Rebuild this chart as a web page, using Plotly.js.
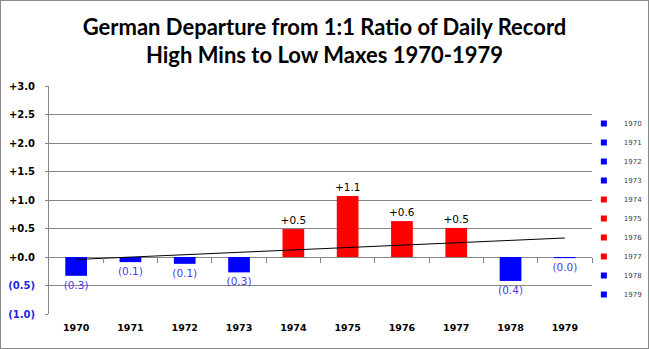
<!DOCTYPE html>
<html>
<head>
<meta charset="utf-8">
<script src="https://cdn.plot.ly/plotly-3.0.1.min.js"></script>
<style>
html,body{margin:0;padding:0;background:#fff;}
#chart{width:647px;height:347px;border:1px solid #8a8a8a;}
</style>
</head>
<body>
<div id="chart"></div>
<script>
// Data
const years = ['1970','1971','1972','1973','1974','1975','1976','1977','1978','1979'];
const departure = [-0.33, -0.09, -0.12, -0.27, 0.49, 1.07, 0.63, 0.51, -0.42, -0.02];
const yTickVals = [-1.0, -0.5, 0.0, 0.5, 1.0, 1.5, 2.0, 2.5, 3.0];

const BLUE = '#0000ff', RED = '#ff0000';
const LABEL_NEG = '#4a3cf0';
const AXIS_NEG = '#1f1fe8';

function fmt(v){ return v >= 0 ? '+' + v.toFixed(1) : '(' + Math.abs(v).toFixed(1) + ')'; }
const barColors = departure.map(v => v >= 0 ? RED : BLUE);
const barText = departure.map(fmt);
const barTextColors = departure.map(v => v >= 0 ? '#000000' : LABEL_NEG);
const yTickText = yTickVals.map(v => v < 0
  ? '<span style="color:' + AXIS_NEG + '">' + fmt(v) + '</span>'
  : fmt(v));

// Linear trend (least squares) computed from the data
const n = departure.length;
const idx = departure.map((_, i) => i);
const mx = idx.reduce((a, b) => a + b, 0) / n;
const my = departure.reduce((a, b) => a + b, 0) / n;
let sxy = 0, sxx = 0;
idx.forEach((x, i) => { sxy += (x - mx) * (departure[i] - my); sxx += (x - mx) * (x - mx); });
const slope = sxy / sxx, icpt = my - slope * mx;
const trendX = [0, n - 1];
const trendY = trendX.map(x => icpt + slope * x);

const traces = [{
  type: 'bar', x: years, y: departure, width: 0.4,
  marker: {color: barColors},
  text: barText, textposition: 'outside', cliponaxis: false, constraintext: 'none',
  textfont: {family: 'DejaVu Sans', size: 10.5, color: barTextColors},
  showlegend: false, hoverinfo: 'x+y'
}, {
  type: 'scatter', mode: 'lines', xaxis: 'x2', x: trendX, y: trendY,
  line: {color: '#000000', width: 1}, showlegend: false, hoverinfo: 'skip'
}];
years.forEach((yr, i) => {
  traces.push({
    type: 'scatter', mode: 'markers', x: [null], y: [null], name: yr,
    marker: {symbol: 'square', size: 6, color: barColors[i]}, showlegend: true
  });
});

const layout = {
  width: 647, height: 347,
  margin: {l: 47.5, r: 56, t: 84.5, b: 33.5, autoexpand: false},
  paper_bgcolor: '#ffffff', plot_bgcolor: '#ffffff',
  title: {
    text: 'German Departure from 1:1 Ratio of Daily Record<br>High Mins to Low Maxes 1970-1979',
    font: {family: 'Lato', size: 22, color: '#000000', weight: 'bold'},
    x: 0.5, xanchor: 'center', y: 0.903, yanchor: 'middle'
  },
  barmode: 'relative',
  xaxis: {
    type: 'category', range: [-0.5, 9.5],
    showgrid: false, zeroline: false, showline: false, ticks: '',
    ticklabelstandoff: 6,
    tickfont: {family: 'DejaVu Sans', size: 9.5, color: '#000000', weight: 'bold'},
    fixedrange: true
  },
  xaxis2: {
    overlaying: 'x', anchor: 'free', position: 0.25, side: 'bottom',
    range: [-0.5, 9.5], showgrid: false, zeroline: false, showline: false,
    tickmode: 'array', tickvals: [0.5, 1.5, 2.5, 3.5, 4.5, 5.5, 6.5, 7.5, 8.5, 9.5],
    ticks: 'outside', ticklen: 5, tickcolor: '#868686', tickwidth: 1,
    showticklabels: false, fixedrange: true
  },
  yaxis: {
    range: [-1, 3], tickmode: 'array', tickvals: yTickVals, ticktext: yTickText,
    showgrid: true, gridcolor: '#868686', gridwidth: 1,
    zeroline: true, zerolinecolor: '#868686', zerolinewidth: 1,
    showline: true, linecolor: '#868686', linewidth: 1,
    ticks: 'outside', ticklen: 3, tickcolor: '#868686',
    ticklabelstandoff: 8,
    tickfont: {family: 'DejaVu Sans', size: 10, color: '#000000', weight: 'bold'},
    fixedrange: true
  },
  legend: {
    x: 0.985, xanchor: 'left', y: 0.46, yanchor: 'middle',
    font: {family: 'DejaVu Sans', size: 7, color: '#404040'},
    bgcolor: 'rgba(0,0,0,0)', borderwidth: 0
  },
  showlegend: true
};

Plotly.newPlot('chart', traces, layout, {displayModeBar: false, staticPlot: true});
</script>
</body>
</html>
